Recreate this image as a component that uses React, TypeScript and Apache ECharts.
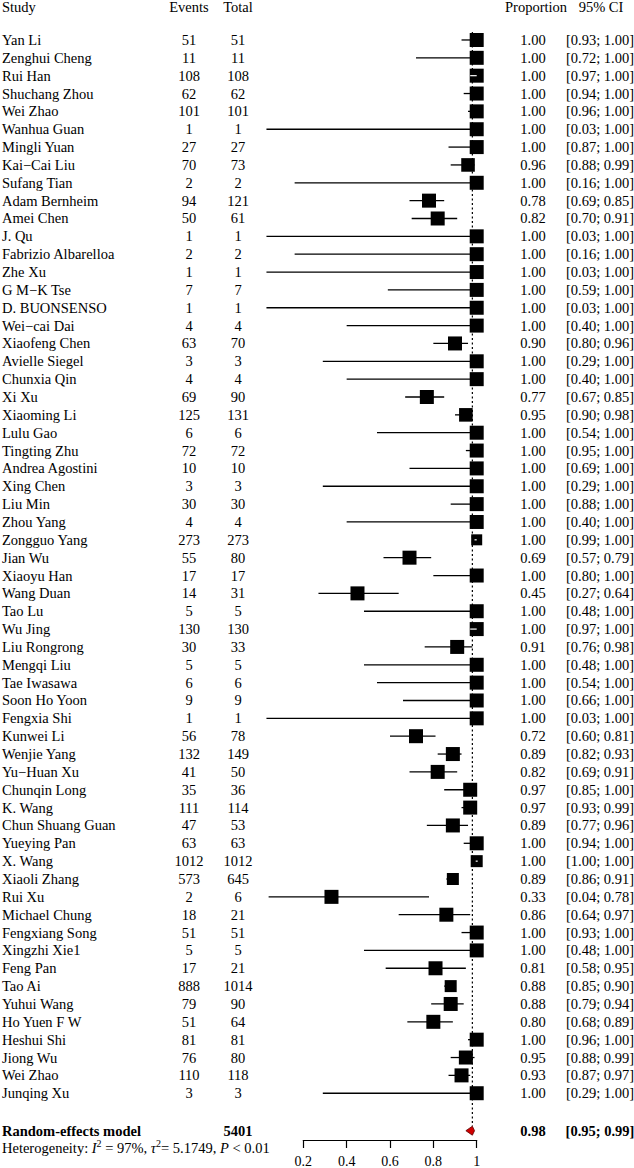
import React, { useEffect, useRef } from "react";
import * as echarts from "echarts";

const studies = [
  "Yan Li", "Zenghui Cheng", "Rui Han", "Shuchang Zhou", "Wei Zhao", "Wanhua Guan", "Mingli Yuan",
  "Kai\u2212Cai Liu", "Sufang Tian", "Adam Bernheim", "Amei Chen", "J. Qu", "Fabrizio Albarelloa", "Zhe Xu",
  "G M\u2212K Tse", "D. BUONSENSO", "Wei\u2212cai Dai", "Xiaofeng Chen", "Avielle Siegel", "Chunxia Qin", "Xi Xu",
  "Xiaoming Li", "Lulu Gao", "Tingting Zhu", "Andrea Agostini", "Xing Chen", "Liu Min", "Zhou Yang",
  "Zongguo Yang", "Jian Wu", "Xiaoyu Han", "Wang Duan", "Tao Lu", "Wu Jing", "Liu Rongrong", "Mengqi Liu",
  "Tae Iwasawa", "Soon Ho Yoon", "Fengxia Shi", "Kunwei Li", "Wenjie Yang", "Yu\u2212Huan Xu", "Chunqin Long",
  "K. Wang", "Chun Shuang Guan", "Yueying Pan", "X. Wang", "Xiaoli Zhang", "Rui Xu", "Michael Chung",
  "Fengxiang Song", "Xingzhi Xie1", "Feng Pan", "Tao Ai", "Yuhui Wang", "Ho Yuen F W", "Heshui Shi",
  "Jiong Wu", "Wei Zhao", "Junqing Xu",
];
const events = [
  51, 11, 108, 62, 101, 1, 27, 70, 2, 94, 50, 1, 2, 1, 7, 1, 4, 63, 3, 4, 69, 125, 6, 72, 10, 3, 30, 4,
  273, 55, 17, 14, 5, 130, 30, 5, 6, 9, 1, 56, 132, 41, 35, 111, 47, 63, 1012, 573, 2, 18, 51, 5, 17, 888,
  79, 51, 81, 76, 110, 3,
];
const totals = [
  51, 11, 108, 62, 101, 1, 27, 73, 2, 121, 61, 1, 2, 1, 7, 1, 4, 70, 3, 4, 90, 131, 6, 72, 10, 3, 30, 4,
  273, 80, 17, 31, 5, 130, 33, 5, 6, 9, 1, 78, 149, 50, 36, 114, 53, 63, 1012, 645, 6, 21, 51, 5, 21, 1014,
  90, 64, 81, 80, 118, 3,
];
const proportions = [
  1.0, 1.0, 1.0, 1.0, 1.0, 1.0, 1.0, 0.96, 1.0, 0.78, 0.82, 1.0, 1.0, 1.0, 1.0, 1.0, 1.0, 0.9, 1.0, 1.0, 0.77,
  0.95, 1.0, 1.0, 1.0, 1.0, 1.0, 1.0, 1.0, 0.69, 1.0, 0.45, 1.0, 1.0, 0.91, 1.0, 1.0, 1.0, 1.0, 0.72, 0.89,
  0.82, 0.97, 0.97, 0.89, 1.0, 1.0, 0.89, 0.33, 0.86, 1.0, 1.0, 0.81, 0.88, 0.88, 0.8, 1.0, 0.95, 0.93, 1.0,
];
const ciLower = [
  0.93, 0.72, 0.97, 0.94, 0.96, 0.03, 0.87, 0.88, 0.16, 0.69, 0.7, 0.03, 0.16, 0.03, 0.59, 0.03, 0.4, 0.8,
  0.29, 0.4, 0.67, 0.9, 0.54, 0.95, 0.69, 0.29, 0.88, 0.4, 0.99, 0.57, 0.8, 0.27, 0.48, 0.97, 0.76, 0.48,
  0.54, 0.66, 0.03, 0.6, 0.82, 0.69, 0.85, 0.93, 0.77, 0.94, 1.0, 0.86, 0.04, 0.64, 0.93, 0.48, 0.58, 0.85,
  0.79, 0.68, 0.96, 0.88, 0.87, 0.29,
];
const ciUpper = [
  1.0, 1.0, 1.0, 1.0, 1.0, 1.0, 1.0, 0.99, 1.0, 0.85, 0.91, 1.0, 1.0, 1.0, 1.0, 1.0, 1.0, 0.96, 1.0, 1.0,
  0.85, 0.98, 1.0, 1.0, 1.0, 1.0, 1.0, 1.0, 1.0, 0.79, 1.0, 0.64, 1.0, 1.0, 0.98, 1.0, 1.0, 1.0, 1.0, 0.81,
  0.93, 0.91, 1.0, 0.99, 0.96, 1.0, 1.0, 0.91, 0.78, 0.97, 1.0, 1.0, 0.95, 0.9, 0.94, 0.89, 1.0, 0.99, 0.97,
  1.0,
];
// approximate relative weights (%) used for box size
const weights = [
  1.7, 1.7, 1.7, 1.7, 1.7, 1.7, 1.7, 1.6, 1.7, 1.7, 1.7, 1.7, 1.7, 1.7, 1.7, 1.7, 1.7, 1.7, 1.7, 1.7, 1.7,
  1.6, 1.7, 1.7, 1.7, 1.7, 1.7, 1.7, 1.05, 1.7, 1.7, 1.7, 1.7, 1.7, 1.7, 1.7, 1.7, 1.7, 1.7, 1.7, 1.7, 1.7,
  1.7, 1.7, 1.7, 1.7, 1.25, 1.25, 1.7, 1.7, 1.7, 1.7, 1.7, 1.25, 1.7, 1.7, 1.7, 1.7, 1.7, 1.7,
];
const pooledTotal = 5401;
const pooled = { est: 0.98, lo: 0.95, hi: 0.99 };
const heterogeneity = { i2: "97%", tau2: "5.1749", p: "< 0.01" };
const headers = ["Study", "Events", "Total", "Proportion", "95% CI"];
const xTicks = { min: 0.2, max: 1, interval: 0.2 };

const SERIF = "'Liberation Serif', 'DejaVu Serif', serif";
const FS = 14.5;
const COL = { study: 2, events: 189, total: 238, prop: 533, ci: 600 };
const ROW_HEADER = -0.85;
const ROW_SUMMARY = 62.1;
const ROW_HET = 63.05;
const Y_MAX = 62.62;

function txt(text: string, x: number, y: number, align: string, bold = false, extra: any = {}) {
  return {
    type: "text",
    style: {
      text,
      x,
      y,
      fill: "#000",
      fontSize: FS,
      fontFamily: SERIF,
      fontWeight: bold ? "bold" : "normal",
      textAlign: align,
      align,
      textVerticalAlign: "middle",
      verticalAlign: "middle",
      ...extra,
    },
  };
}

const fmt = (v: number) => v.toFixed(2);

export default function App() {
  const ref = useRef<HTMLDivElement>(null);
  useEffect(() => {
    if (!ref.current) return;
    const chart = echarts.init(ref.current, null, { renderer: "svg" });

    const rows = studies.map((s, i) => [proportions[i], i + 1, ciLower[i], ciUpper[i], weights[i], i]);

    const option: any = {
      animation: false,
      grid: { left: 303.3, right: 157.3, top: 22.12, bottom: 26.3 },
      xAxis: {
        type: "value",
        min: xTicks.min,
        max: xTicks.max,
        interval: xTicks.interval,
        position: "bottom",
        axisLine: { show: true, onZero: false, lineStyle: { color: "#000", width: 1.2 } },
        axisTick: { show: true, length: 8, lineStyle: { color: "#000", width: 1.2 } },
        axisLabel: {
          color: "#000",
          fontFamily: SERIF,
          fontSize: 14,
          margin: 14,
          formatter: (v: number) => (Math.abs(v - 1) < 1e-9 ? "1" : (Math.round(v * 10) / 10).toFixed(1)),
        },
        splitLine: { show: false },
      },
      yAxis: { type: "value", inverse: true, min: 0, max: Y_MAX, show: false },
      series: [
        {
          // reference dotted line at pooled estimate
          type: "custom",
          clip: false,
          silent: true,
          data: [[pooled.est, 0.55, 61.85]],
          renderItem: (params: any, api: any) => {
            const a = api.coord([api.value(0), api.value(1)]);
            const b = api.coord([api.value(0), api.value(2)]);
            return {
              type: "line",
              shape: { x1: a[0], y1: a[1], x2: b[0], y2: b[1] },
              style: { stroke: "#000", lineWidth: 1.2, lineDash: [2, 2.5] },
            };
          },
        },
        {
          // study estimates
          type: "custom",
          clip: false,
          silent: true,
          data: rows,
          encode: { x: 0, y: 1 },
          renderItem: (params: any, api: any) => {
            const est = api.value(0);
            const row = api.value(1);
            const pE = api.coord([est, row]);
            const pL = api.coord([api.value(2), row]);
            const pH = api.coord([api.value(3), row]);
            const size = 10.74 * Math.sqrt(api.value(4));
            const left = pE[0] - size / 2;
            const right = pE[0] + size / 2;
            const children: any[] = [
              {
                type: "line",
                shape: { x1: pL[0], y1: pL[1], x2: pH[0], y2: pH[1] },
                style: { stroke: "#000", lineWidth: 1.3 },
              },
              {
                type: "rect",
                shape: { x: left, y: pE[1] - size / 2, width: size, height: size },
                style: { fill: "#000" },
              },
            ];
            if (pL[0] >= left && pH[0] <= right) {
              let x1 = pL[0];
              let x2 = pH[0];
              if (x2 - x1 < 2) {
                x1 -= 1;
                x2 += 1;
              }
              children.push({
                type: "line",
                shape: { x1, y1: pE[1], x2, y2: pE[1] },
                style: { stroke: "#fff", lineWidth: 1.2 },
              });
            }
            return { type: "group", children };
          },
        },
        {
          // table text for studies
          type: "custom",
          clip: false,
          silent: true,
          data: rows,
          encode: { x: 0, y: 1 },
          renderItem: (params: any, api: any) => {
            const i = api.value(5);
            const y = api.coord([0.5, api.value(1)])[1];
            return {
              type: "group",
              children: [
                txt(studies[i], COL.study, y, "left"),
                txt(String(events[i]), COL.events, y, "center"),
                txt(String(totals[i]), COL.total, y, "center"),
                txt(fmt(proportions[i]), COL.prop, y, "center"),
                txt(`[${fmt(ciLower[i])}; ${fmt(ciUpper[i])}]`, COL.ci, y, "center"),
              ],
            };
          },
        },
        {
          // header
          type: "custom",
          clip: false,
          silent: true,
          data: [[0.5, ROW_HEADER]],
          renderItem: (params: any, api: any) => {
            const y = api.coord([0.5, api.value(1)])[1];
            return {
              type: "group",
              children: [
                txt(headers[0], COL.study, y, "left"),
                txt(headers[1], COL.events, y, "center"),
                txt(headers[2], COL.total, y, "center"),
                txt(headers[3], COL.prop + 3, y, "center"),
                txt(headers[4], COL.ci + 1, y, "center"),
              ],
            };
          },
        },
        {
          // pooled summary
          type: "custom",
          clip: false,
          silent: true,
          data: [[pooled.est, ROW_SUMMARY, pooled.lo, pooled.hi]],
          renderItem: (params: any, api: any) => {
            const row = api.value(1);
            const pE = api.coord([api.value(0), row]);
            const pL = api.coord([api.value(2), row]);
            const pH = api.coord([api.value(3), row]);
            const h = 4.5;
            const y = pE[1];
            return {
              type: "group",
              children: [
                {
                  type: "polygon",
                  shape: {
                    points: [
                      [pL[0], y],
                      [pE[0], y - h],
                      [pH[0], y],
                      [pE[0], y + h],
                    ],
                  },
                  style: { fill: "#d10000", stroke: "#5a0000", lineWidth: 0.8 },
                },
                txt("Random-effects model", COL.study, y, "left", true),
                txt(String(pooledTotal), COL.total, y, "center", true),
                txt(fmt(api.value(0)), COL.prop, y, "center", true),
                txt(`[${fmt(api.value(2))}; ${fmt(api.value(3))}]`, COL.ci, y, "center", true),
              ],
            };
          },
        },
        {
          // heterogeneity
          type: "custom",
          clip: false,
          silent: true,
          data: [[0.5, ROW_HET]],
          renderItem: (params: any, api: any) => {
            const y = api.coord([0.5, api.value(1)])[1];
            return txt(
              `Heterogeneity: {it|I}{sup|2} = ${heterogeneity.i2}, {it|\u03c4}{sup|2}= ${heterogeneity.tau2}, {it|P} ${heterogeneity.p}`,
              COL.study,
              y,
              "left",
              false,
              {
                rich: {
                  it: { fontStyle: "italic", fontSize: FS, fontFamily: SERIF, fill: "#000" },
                  sup: { fontSize: 10, fontFamily: SERIF, fill: "#000", padding: [0, 0, 9, 0] },
                },
              }
            );
          },
        },
      ],
    };
    chart.setOption(option);
    return () => chart.dispose();
  }, []);

  return (
    <div
      ref={ref}
      style={{ position: "absolute", left: 0, top: 0, width: 634, height: 1168, background: "#fff" }}
    />
  );
}
